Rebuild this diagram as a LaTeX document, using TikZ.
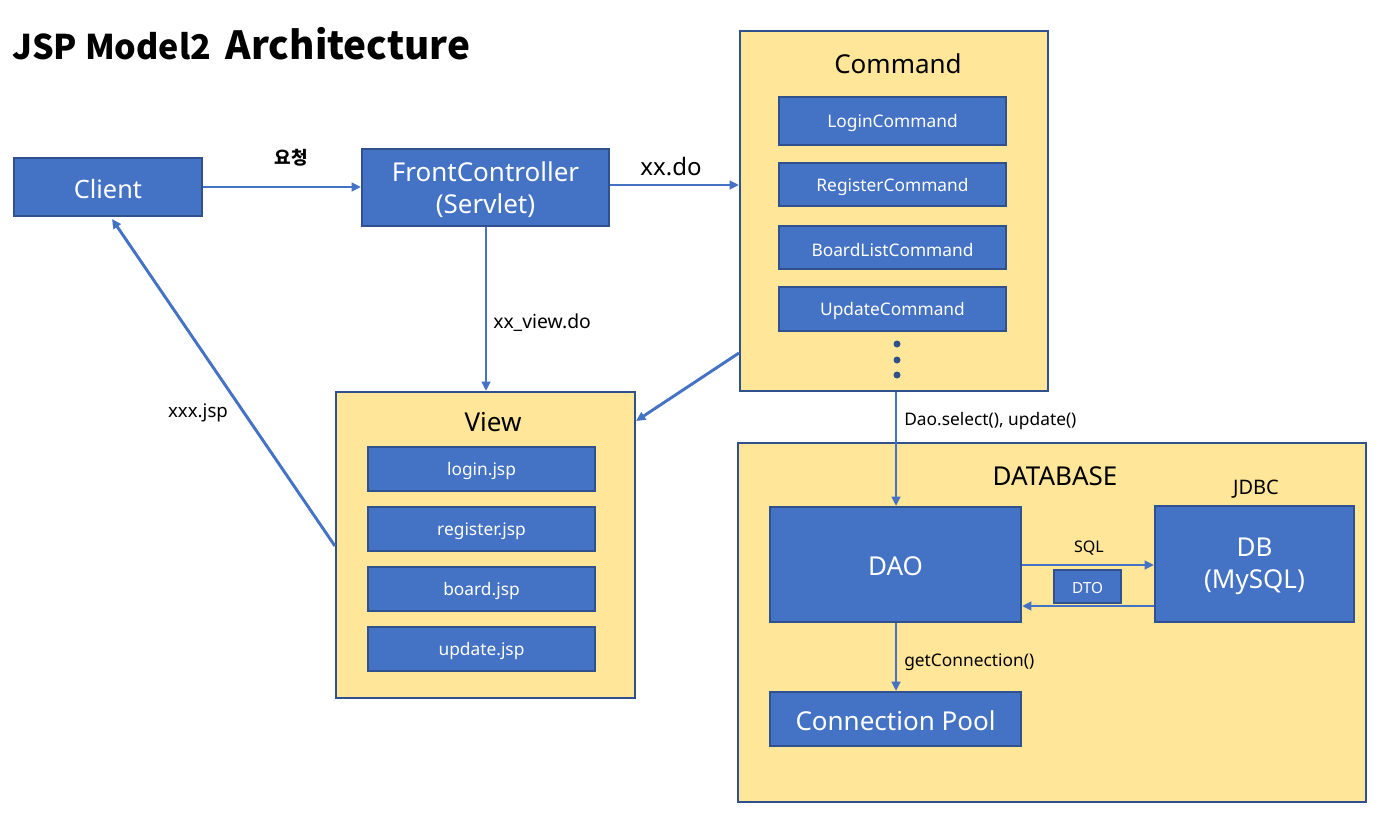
\documentclass[tikz,border=0pt]{standalone}
\usepackage{fontspec}
\setmainfont{Noto Sans}
\newfontfamily\krfont{Noto Sans CJK KR}
\usetikzlibrary{fit,arrows.meta}
\definecolor{bfill}{HTML}{4472C4}
\definecolor{bdraw}{HTML}{2F528F}
\definecolor{yfill}{HTML}{FFE699}
\newcommand\fs[1]{\fontsize{#1}{#1}\selectfont}
\begin{document}
\begin{tikzpicture}[x=0.75pt,y=-0.75pt,
  bluebox/.style={draw=bdraw,fill=bfill,line width=1.6pt,inner sep=0pt,text=white,align=center},
  ybox/.style={draw=bdraw,fill=yfill,line width=1.6pt,inner sep=0pt},
  conn/.style={draw=bfill,line width=2.2pt,-{Triangle[length=7pt,width=6.5pt]}},
  lbl/.style={inner sep=0pt,text=black},
  intext/.style={inner sep=0pt,text=white,align=center,yshift=-1.5pt}]
\useasboundingbox (0,0) rectangle (1398,813);
% title
\node[lbl,anchor=base west] (title) at (12,60) {\krfont\bfseries\fs{25.5}JSP Model2\hspace{11pt}\fs{29}Architecture};
% client / front controller
\node[bluebox,fit={(14,158) (202,216)}] (client) {};
\node[intext] at (client.center) {\fs{19}Client};
\node[bluebox,fit={(362,149) (609,226)}] (fc) {};
\node[intext] at (fc.center) {\fs{19.5}FrontController\\[8pt]\fs{19.5}(Servlet)};
% command
\node[ybox,fit={(740,31) (1048,391)}] (cmd) {};
\node[lbl] (cmdt) at (898,64) {\fs{19.5}Command};
\node[bluebox,fit={(779,97) (1006,145)}] (c1) {};
\node[intext] at (c1.center) {\fs{13}LoginCommand};
\node[bluebox,fit={(779,163) (1006,206)}] (c2) {};
\node[intext] at (c2.center) {\fs{13}RegisterCommand};
\node[bluebox,fit={(779,226) (1006,269)}] (c3) {};
\node[intext] at (c3.center) {\fs{13}BoardListCommand};
\node[bluebox,fit={(779,287) (1006,331)}] (c4) {};
\node[intext] at (c4.center) {\fs{13}UpdateCommand};
\fill[bdraw] (897,344) circle (3.5) (897,360) circle (3.5) (897,375) circle (3.5);
% view
\node[ybox,fit={(336,392) (635,698)}] (view) {};
\node[lbl] (viewt) at (493,422) {\fs{19.5}View};
\node[bluebox,fit={(368,447) (595,491)}] (v1) {};
\node[intext] at (v1.center) {\fs{13}login.jsp};
\node[bluebox,fit={(368,507) (595,551)}] (v2) {};
\node[intext] at (v2.center) {\fs{13}register.jsp};
\node[bluebox,fit={(368,567) (595,611)}] (v3) {};
\node[intext] at (v3.center) {\fs{13}board.jsp};
\node[bluebox,fit={(368,627) (595,671)}] (v4) {};
\node[intext] at (v4.center) {\fs{13}update.jsp};
% database
\node[ybox,fit={(738,443) (1366,802)}] (dbase) {};
\node[lbl] (dbt) at (1055,476) {\fs{19.5}DATABASE};
\node[lbl] (jdbc) at (1256,489) {\fs{15}JDBC};
\node[bluebox,fit={(770,507) (1021,622)}] (dao) {};
\node[intext] at (dao.center) {\fs{19.5}DAO};
\node[bluebox,fit={(1155,506) (1354,622)}] (db) {};
\node[intext] at (db.center) {\fs{19.5}DB\\[9pt]\fs{19.5}(MySQL)};
\node[bluebox,fit={(1054,570) (1121,603)}] (dto) {};
\node[intext] at (dto.center) {\fs{11.5}DTO};
\node[bluebox,fit={(770,692) (1021,746)}] (pool) {};
\node[intext] at (pool.center) {\fs{19.5}Connection Pool};
% connectors
\draw[conn] (client.east|-0,187) -- (fc.west|-0,187);
\node[lbl] at (291,158) {\krfont\bfseries\fs{13.5}요청};
\draw[conn] (fc.east|-0,185) -- (cmd.west|-0,185);
\node[lbl] at (671,167) {\fs{18}xx.do};
\draw[conn] (fc.south-|486,0) -- (view.north-|486,0);
\node[lbl,anchor=west] at (493,323) {\fs{14.5}xx\_view.do};
\draw[conn] (cmd.west|-0,353) -- (view.east|-0,421);
\draw[conn] (view.west|-0,546) -- (112,219);
\node[lbl] at (198,413) {\fs{14}xxx.jsp};
\draw[conn] (cmd.south-|896,0) -- (dao.north-|896,0);
\node[lbl,anchor=west] at (904,421) {\fs{13}Dao.select(), update()};
\draw[conn] (dao.east|-0,565) -- (db.west|-0,565);
\node[lbl] at (1089,548) {\fs{12}SQL};
\draw[conn] (db.west|-0,606) -- (dao.east|-0,606);
\draw[conn] (dao.south-|896,0) -- (pool.north-|896,0);
\node[lbl,anchor=west] at (904,662) {\fs{13}getConnection()};
\end{tikzpicture}
\end{document}
